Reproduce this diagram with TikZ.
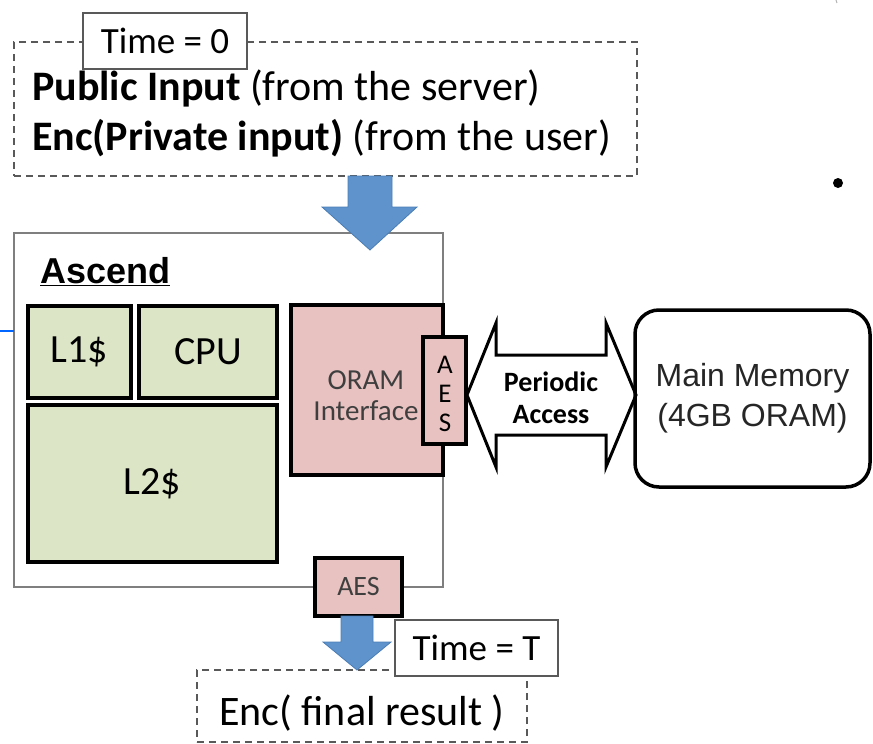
\documentclass[tikz,border=0pt]{standalone}
\usepackage{fontspec}
\setmainfont{Carlito}
\newfontfamily\arialf{Liberation Sans}
\usetikzlibrary{calc}
\definecolor{greenfill}{HTML}{DCE5C6}
\definecolor{pinkfill}{HTML}{E8C2C1}
\definecolor{bluefill}{HTML}{5F93CB}
\definecolor{blueline}{HTML}{4A7DB5}
\definecolor{dashgray}{HTML}{595959}
\definecolor{boxgray}{HTML}{7F7F7F}
\definecolor{txtgray}{HTML}{3F3F3F}
\tikzset{
  fs/.style={font=\fontsize{#1}{#1}\selectfont},
  fsb/.style={font=\bfseries\fontsize{#1}{#1}\selectfont},
  boxbase/.style={rectangle, inner sep=0pt, outer sep=0pt, align=center},
  dashbox/.style={boxbase, draw=dashgray, line width=1.8pt, dash pattern=on 7pt off 5pt},
  timebox/.style={boxbase, draw=dashgray, line width=1.8pt, fill=white, fs=37},
  greenbox/.style={boxbase, draw=black, line width=3.5pt, fill=greenfill, fs=40},
  pinkbox/.style={boxbase, draw=black, line width=3.5pt, fill=pinkfill},
  bluearrow/.style={fill=bluefill, draw=blueline, line width=0.8pt},
}
\begin{document}
\begin{tikzpicture}[x=1pt,y=-1pt]
\useasboundingbox (0,0) rectangle (873,744);
% top dashed box
\node[dashbox, minimum width=623pt, minimum height=134pt] (topbox) at (325.5,109) {};
\node[fs=42, anchor=base west, inner sep=0pt] (pub) at (32,100) {\textbf{Public Input} (from the server)};
\node[fs=42, anchor=base west, inner sep=0pt] (enc) at (32,150) {\textbf{Enc(Private input)} (from the user)};
\node[timebox, minimum width=164pt, minimum height=56pt] (time0) at (165,41) {Time = 0};
% Ascend
\node[boxbase, draw=boxgray, line width=1.6pt, fill=white, minimum width=429pt, minimum height=354pt] (ascend) at (228.5,410) {};
\node[anchor=base west, inner sep=0pt, font=\arialf\bfseries\fontsize{36}{36}\selectfont] (asclabel) at (40,283) {\underline{Ascend}};
\node[greenbox, minimum width=103pt, minimum height=92pt] (l1) at (79.5,352) {L1\$};
\node[greenbox, minimum width=138pt, minimum height=92pt] (cpu) at (208,352) {CPU};
\node[greenbox, minimum width=249pt, minimum height=157pt] (l2) at (152.5,483.5) {L2\$};
\node[pinkbox, minimum width=152pt, minimum height=170pt] (oram) at (367,390) {};
\node[fs=29, text=txtgray, align=center, inner sep=0pt] (oramtxt) at (366,396) {ORAM\\[2pt]Interface};
% double arrow
\coordinate (dl) at (467,395);
\coordinate (dr) at (636,395);
\draw[line width=3pt, fill=white, line join=miter]
  (dl) -- (496,323) -- (496,355) -- (606,355) -- (606,323) -- (dr)
  -- (606,467) -- (606,435) -- (496,435) -- (496,467) -- cycle;
\node[fsb=28, align=center, inner sep=0pt] (periodic) at (551,398) {Periodic\\[4pt]Access};
\node[pinkbox, minimum width=43pt, minimum height=107pt] (aes1) at (444.5,390.5) {};
\node[fs=27, align=center, inner sep=0pt] at (445,394) {A\\[2pt]E\\[2pt]S};
% main memory
\node[boxbase, draw=black, line width=3.5pt, rounded corners=24pt, minimum width=235pt, minimum height=177pt,
      font=\arialf\fontsize{32}{40}\selectfont, text=black!85] (mem) at (752.5,398.5) {Main Memory\\(4GB ORAM)};
% bottom AES
\node[pinkbox, minimum width=87pt, minimum height=58pt, fs=28, text=txtgray] (aes2) at (358.5,587) {AES};
% blue arrows
\draw[bluearrow] (348,176) -- (392,176) -- (392,207) -- (417,207) -- (370,250) -- (322,207) -- (348,207) -- cycle;
% bottom dashed box
\node[dashbox, minimum width=330pt, minimum height=72pt] (botbox) at (362,706) {};
\node[fs=42, anchor=base, inner sep=0pt] (final) at (362,725) {Enc( final result )};
\draw[bluearrow] (341,616) -- (373,616) -- (373,642) -- (391,642) -- (357,670) -- (323,642) -- (341,642) -- cycle;
\node[timebox, minimum width=163pt, minimum height=56pt] (timeT) at (476.5,648) {Time = T};
% stray marks
\draw[blue!60!cyan, line width=1.5pt] (0,331) -- (ascend.west |- 0,331);
\fill (838,183) circle (5pt);
\draw[gray!60, line width=1pt] (836,0) -- (837,3);
\end{tikzpicture}
\end{document}
